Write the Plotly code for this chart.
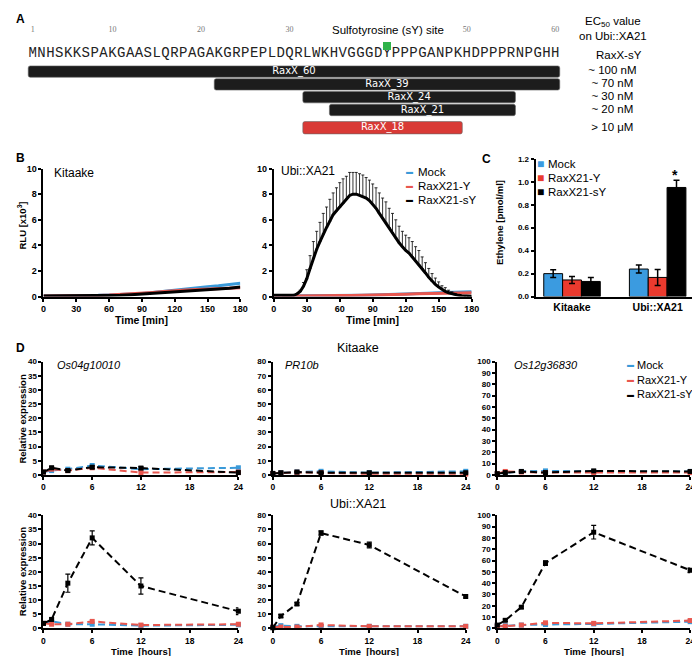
import plotly.graph_objects as go

W, H = 700, 656
FONT = "Liberation Sans"
BLUE = "#3a9ad9"
RED = "#e8574f"
RED_BAR = "#ea3a2e"
BLACK = "#000000"

# ---------------- Panel A data ----------------
sequence = "MNHSKKSPAKGAASLQRPAGAKGRPEPLDQRLWKHVGGGDYPPPGANPKHDPPPRNPGHH"
residue_labels = [1, 10, 20, 30, 50, 60]
peptides = ["RaxX_60", "RaxX_39", "RaxX_24", "RaxX_21", "RaxX_18"]
pep_start = [1, 22, 32, 35, 32]
pep_end = [60, 60, 55, 55, 49]
ec50_text = ["~ 100 nM", "~ 70 nM", "~ 30 nM", "~ 20 nM", "> 10 \u03bcM"]
sulfo_site = [41]

# ---------------- Panel B data ----------------
kit_time = [0, 10, 20, 30, 40, 50, 60, 70, 80, 90, 100, 110, 120, 130, 140, 150, 160, 170, 180]
kit_mock = [0.05, 0.05, 0.05, 0.06, 0.08, 0.1, 0.13, 0.16, 0.2, 0.25, 0.33, 0.42, 0.55, 0.63, 0.7, 0.78, 0.85, 0.95, 1.05]
kit_y = [0.05, 0.05, 0.05, 0.06, 0.07, 0.09, 0.12, 0.16, 0.21, 0.27, 0.33, 0.4, 0.48, 0.52, 0.55, 0.58, 0.62, 0.66, 0.7]
kit_sy = [0.05, 0.05, 0.05, 0.05, 0.05, 0.06, 0.08, 0.1, 0.14, 0.2, 0.25, 0.3, 0.35, 0.4, 0.45, 0.52, 0.58, 0.66, 0.75]
ubi_mock = [0.05, 0.05, 0.05, 0.05, 0.06, 0.07, 0.08, 0.09, 0.1, 0.12, 0.14, 0.17, 0.2, 0.24, 0.27, 0.3, 0.33, 0.36, 0.38]
ubi_y = [0.03, 0.03, 0.04, 0.05, 0.06, 0.07, 0.08, 0.09, 0.1, 0.12, 0.14, 0.16, 0.19, 0.22, 0.25, 0.27, 0.28, 0.29, 0.3]
ubi_sy_time = [0, 3, 6, 9, 12, 15, 18, 21, 24, 27, 30, 33, 36, 39, 42, 45, 48, 51, 54, 57,
               60, 63, 66, 69, 72, 75, 78, 81, 84, 87, 90, 93, 96, 99, 102, 105, 108, 111, 114, 117,
               120, 123, 126, 129, 132, 135, 138, 141, 144, 147, 150, 153, 156, 159, 162, 165, 168, 171, 174, 177, 180]
ubi_sy = [0.1, 0.1, 0.1, 0.08, 0.08, 0.08, 0.1, 0.2, 0.4, 0.8, 1.4, 2.2, 3.0, 3.7, 4.3, 4.9, 5.4, 5.9, 6.4, 6.7,
          7.0, 7.3, 7.6, 7.9, 8.0, 8.0, 7.9, 7.8, 7.7, 7.5, 7.2, 6.9, 6.5, 6.1, 5.8, 5.4, 5.0, 4.6, 4.2, 3.9,
          3.6, 3.4, 3.1, 2.8, 2.5, 2.2, 1.85, 1.5, 1.2, 0.95, 0.75, 0.55, 0.4, 0.3, 0.22, 0.15, 0.1, 0.06, 0.04, 0.03, 0.02]
ubi_sy_err = [0, 0, 0, 0, 0, 0, 0.02, 0.05, 0.1, 0.3, 0.7, 1.0, 1.3, 1.4, 1.5, 1.6, 1.6, 1.7, 1.7, 1.8,
              1.9, 1.9, 1.8, 1.8, 1.7, 1.7, 1.7, 1.7, 1.6, 1.6, 1.6, 1.6, 1.6, 1.6, 1.6, 1.5, 1.5, 1.4, 1.3, 1.2,
              1.2, 1.2, 1.2, 1.1, 1.1, 0.9, 0.8, 0.7, 0.6, 0.5, 0.4, 0.3, 0.3, 0.2, 0.15, 0.1, 0.05, 0.03, 0.02, 0, 0]

# ---------------- Panel C data ----------------
c_lines = ["Kitaake", "Ubi::XA21"]
c_mock = [0.20, 0.24]
c_mock_err = [0.033, 0.035]
c_y = [0.145, 0.167]
c_y_err = [0.03, 0.07]
c_sy = [0.132, 0.95]
c_sy_err = [0.035, 0.063]

# ---------------- Panel D data ----------------
d_time = [0, 1, 3, 6, 12, 24]
genes = ["Os04g10010", "PR10b", "Os12g36830"]
# Kitaake
kit_os04_mock = [1, 1.5, 2, 3.3, 2, 2.5]
kit_os04_y = [1, 2, 1.5, 2.5, 0.8, 1.0]
kit_os04_sy = [1, 2.5, 1.5, 2.7, 2.4, 0.8]
kit_pr10_mock = [1, 1.5, 2, 2.5, 1.5, 2.5]
kit_pr10_y = [1, 1.2, 1.8, 1.5, 0.5, 0.5]
kit_pr10_sy = [1, 1.5, 2, 1.5, 1.5, 1.5]
kit_os12_mock = [1, 2, 3, 3.5, 3, 3]
kit_os12_y = [1, 3, 2.5, 2, 2, 2]
kit_os12_sy = [1, 2, 3, 2, 3.5, 3]
kit_sy_err = [0.3, 0.5, 0.5, 0.5, 0.5, 0.5]
# Ubi::XA21
ubi_os04_mock = [1.8, 2.5, 1.5, 1.5, 1.0, 1.3]
ubi_os04_y = [1.8, 1.5, 1.5, 2.5, 1.2, 1.5]
ubi_os04_sy = [1.8, 3.2, 16, 32, 15, 6.1]
ubi_os04_sy_err = [0.5, 0.5, 3.2, 2.5, 2.9, 1.2]
ubi_pr10_mock = [1, 2, 1.5, 1.5, 1.5, 1.5]
ubi_pr10_y = [1, 1, 1, 2.5, 1.5, 1.5]
ubi_pr10_sy = [0.5, 8.8, 17.3, 67.4, 59, 22.6]
ubi_pr10_sy_err = [0.5, 1, 1, 1.5, 2, 1]
ubi_os12_mock = [2, 2.5, 3, 3.5, 4, 6]
ubi_os12_y = [2, 2, 3, 5, 4.5, 7]
ubi_os12_sy = [3, 7.2, 18.8, 57.8, 85, 51.4]
ubi_os12_sy_err = [1, 1, 1, 2, 6, 2]

# ---------------- layout helpers ----------------
def dx(l, r):
    return [l / W, r / W]

def dy(t, b):
    return [1 - b / H, 1 - t / H]

RES_PX0, RES_STEP = 22.0, 9.0
A_ROW_Y = [59.5, 72.5, 85.5, 98.5, 116.5]
A_ROW_H = [11.5, 11.5, 11.5, 11.5, 12.5]

fig = go.Figure()

# ---------------- Panel A ----------------
fig.add_trace(go.Bar(
    orientation="h", y=A_ROW_Y,
    x=[e - s + 1 for s, e in zip(pep_start, pep_end)],
    base=[s - 0.5 for s in pep_start],
    width=A_ROW_H,
    marker=dict(color=["#1c1c1c"] * 4 + ["#d93a36"], line=dict(color="#666666", width=0.6), cornerradius=2),
    xaxis="x", yaxis="y", hoverinfo="skip"))
fig.add_trace(go.Scatter(
    x=[(s + e) / 2 for s, e in zip(pep_start, pep_end)], y=A_ROW_Y, mode="text",
    text=peptides, textfont=dict(family="DejaVu Sans", size=10, color="white"),
    xaxis="x", yaxis="y", hoverinfo="skip"))
fig.add_trace(go.Scatter(
    x=list(range(1, len(sequence) + 1)), y=[41] * len(sequence), mode="text",
    text=list(sequence), textfont=dict(family="Liberation Mono", size=14, color="#222222"),
    xaxis="x", yaxis="y", hoverinfo="skip"))
fig.add_trace(go.Scatter(
    x=residue_labels, y=[17] * len(residue_labels), mode="text",
    text=[str(v) for v in residue_labels],
    textfont=dict(family="Liberation Serif", size=8, color="#777777"),
    xaxis="x", yaxis="y", hoverinfo="skip"))
fig.add_trace(go.Scatter(
    x=sulfo_site, y=[33.5], mode="markers",
    marker=dict(symbol="square", size=8, color="#2fb34c"),
    xaxis="x", yaxis="y", hoverinfo="skip"))
fig.add_trace(go.Scatter(
    x=[1 + (611 - RES_PX0) / RES_STEP] * len(ec50_text), y=A_ROW_Y, mode="text",
    text=ec50_text, textfont=dict(family=FONT, size=11.5, color="black"),
    xaxis="x", yaxis="y", hoverinfo="skip"))

# ---------------- Panel B ----------------
for ax, (m, yv) in zip(["2", "3"], [(kit_mock, kit_y), (ubi_mock, ubi_y)]):
    fig.add_trace(go.Scatter(x=kit_time, y=m, mode="lines", line=dict(color=BLUE, width=3),
                             xaxis="x" + ax, yaxis="y" + ax, cliponaxis=False))
    fig.add_trace(go.Scatter(x=kit_time, y=yv, mode="lines", line=dict(color=RED, width=3),
                             xaxis="x" + ax, yaxis="y" + ax, cliponaxis=False))
fig.add_trace(go.Scatter(x=kit_time, y=kit_sy, mode="lines", line=dict(color=BLACK, width=3),
                         xaxis="x2", yaxis="y2", cliponaxis=False))
fig.add_trace(go.Scatter(x=ubi_sy_time, y=ubi_sy, mode="lines", line=dict(color=BLACK, width=3),
                         error_y=dict(type="data", symmetric=False, array=ubi_sy_err,
                                      arrayminus=[0] * len(ubi_sy_err), color="black", thickness=0.8, width=1.5),
                         xaxis="x3", yaxis="y3", cliponaxis=False))

# ---------------- Panel C ----------------
for vals, errs, col in [(c_mock, c_mock_err, "#3b9be0"), (c_y, c_y_err, RED_BAR), (c_sy, c_sy_err, "#000000")]:
    fig.add_trace(go.Bar(x=c_lines, y=vals, marker=dict(color=col, line=dict(color="black", width=1)),
                         error_y=dict(type="data", array=errs, color="black", thickness=1.5, width=3),
                         xaxis="x4", yaxis="y4"))

# ---------------- Panel D ----------------
d_sets = [
    ("5", kit_os04_mock, kit_os04_y, kit_os04_sy, kit_sy_err),
    ("6", kit_pr10_mock, kit_pr10_y, kit_pr10_sy, kit_sy_err),
    ("7", kit_os12_mock, kit_os12_y, kit_os12_sy, kit_sy_err),
    ("8", ubi_os04_mock, ubi_os04_y, ubi_os04_sy, ubi_os04_sy_err),
    ("9", ubi_pr10_mock, ubi_pr10_y, ubi_pr10_sy, ubi_pr10_sy_err),
    ("10", ubi_os12_mock, ubi_os12_y, ubi_os12_sy, ubi_os12_sy_err),
]
for ax, m, yv, sy, se in d_sets:
    for vals, col in [(m, BLUE), (yv, RED)]:
        fig.add_trace(go.Scatter(x=d_time, y=vals, mode="lines+markers",
                                 line=dict(color=col, width=2, dash="7px,4px"),
                                 marker=dict(symbol="square", size=5, color=col),
                                 xaxis="x" + ax, yaxis="y" + ax, cliponaxis=False))
    fig.add_trace(go.Scatter(x=d_time, y=sy, mode="lines+markers",
                             line=dict(color=BLACK, width=2, dash="7px,4px"),
                             marker=dict(symbol="square", size=5, color=BLACK),
                             error_y=dict(type="data", array=se, color="black", thickness=1.2, width=2.5),
                             xaxis="x" + ax, yaxis="y" + ax, cliponaxis=False))

# ---------------- axes ----------------
def axis(domain, anchor, rng, **kw):
    d = dict(domain=domain, anchor=anchor, range=rng, showline=True, linecolor="black", linewidth=2,
             ticks="outside", ticklen=3, tickwidth=1.5, tickcolor="black", showgrid=False, zeroline=False,
             tickfont=dict(family=FONT, size=9, color="black", weight="bold"))
    d.update(kw)
    return d

layout = dict(
    width=W, height=H, margin=dict(l=0, r=0, t=0, b=0), autosize=False,
    paper_bgcolor="white", plot_bgcolor="white", showlegend=False,
    barmode="group", bargap=0.34, bargroupgap=0,
    font=dict(family=FONT, color="black"),
    xaxis=dict(domain=[0, 1], anchor="y", range=[1 + (0 - RES_PX0) / RES_STEP, 1 + (W - RES_PX0) / RES_STEP],
               visible=False),
    yaxis=dict(domain=dy(0, 130), anchor="x", range=[130, 0], visible=False),
)
B_Y = dy(158, 288)
layout["xaxis2"] = axis(dx(33, 233), "y2", [0, 180], tickvals=[0, 30, 60, 90, 120, 150, 180])
layout["yaxis2"] = axis(B_Y, "x2", [0, 10], tickvals=[0, 2, 4, 6, 8, 10])
layout["xaxis3"] = axis(dx(267, 468), "y3", [0, 180], tickvals=[0, 30, 60, 90, 120, 150, 180])
layout["yaxis3"] = axis(B_Y, "x3", [0, 10], tickvals=[0, 2, 4, 6, 8, 10])
layout["xaxis4"] = axis(dx(533, 697), "y4", [-0.425, 1.46], ticks="", type="category",
                        tickfont=dict(family=FONT, size=10.5, color="black", weight="bold"))
layout["yaxis4"] = axis(dy(148, 288), "x4", [0, 1.2], tickvals=[0, 0.2, 0.4, 0.6, 0.8, 1.0, 1.2],
                        tickformat=".1f", tickfont=dict(family=FONT, size=8, color="black", weight="bold"))
D_X = [dx(33, 231), dx(266, 462), dx(494, 690)]
D_RANGES = [[0, 40], [0, 80], [0, 100]]
D_DT = [5, 10, 10]
D_ROWS = [dy(354, 469), dy(510, 625)]
for r, yd in enumerate(D_ROWS):
    for c in range(3):
        n = str(5 + r * 3 + c)
        layout["xaxis" + n] = axis(D_X[c], "y" + n, [0, 24], tickvals=[0, 6, 12, 18, 24],
                                   tickfont=dict(family=FONT, size=8.5, color="black", weight="bold"))
        layout["yaxis" + n] = axis(yd, "x" + n, D_RANGES[c], dtick=D_DT[c],
                                   tickfont=dict(family=FONT, size=8, color="black", weight="bold"))

# ---------------- annotations ----------------
anns = []

def ann(text, x, y, size=12, bold=False, italic=False, xanchor="center", yanchor="middle", angle=0, color="black"):
    anns.append(dict(text=text, x=x / W, y=1 - y / H, xref="paper", yref="paper", showarrow=False,
                     xanchor=xanchor, yanchor=yanchor, textangle=angle, borderpad=0,
                     font=dict(family=FONT, size=size, color=color, weight="bold" if bold else "normal",
                               style="italic" if italic else "normal")))

# A
ann("A", 4, 6, 12, bold=True, xanchor="left")
ann("Sulfotyrosine (sY) site", 383, 17, 11.5)
ann("EC<sub>50</sub> value", 612, 9, 11.5)
ann("on Ubi::XA21", 612, 23, 11.5)
ann("RaxX-sY", 618, 43, 11.5)
# B
ann("B", 4, 147, 12, bold=True, xanchor="left")
ann("Kitaake", 43, 162, 12, xanchor="left")
ann("Ubi::XA21", 273, 160, 12, xanchor="left")
ann("RLU [x10<sup>3</sup>]", 11, 216, 9.5, bold=True, angle=-90)
ann("Time [min]", 133, 312, 10.5, bold=True)
ann("Time [min]", 367, 312, 10.5, bold=True)
for lbl, col, yy in [("Mock", BLUE, 161), ("RaxX21-Y", RED, 175.5), ("RaxX21-sY", BLACK, 189.5)]:
    ann("<span style='color:%s'>\u25ac</span>" % col, 405, yy, 7)
    ann(lbl, 412, yy, 11.5, xanchor="left")
# C
ann("C", 483, 148, 12, bold=True)
for lbl, col, yy in [("Mock", "#3b9be0", 153), ("RaxX21-Y", RED_BAR, 167.5), ("RaxX21-sY", "#000000", 182)]:
    ann("<span style='color:%s'>\u25a0</span>" % col, 538, yy, 12)
    ann(lbl, 545, yy, 11.5, xanchor="left")
ann("Ethylene [pmol/ml]", 497, 213, 9.5, bold=True, angle=-90)
ann("*", 675, 165, 14, bold=True)
# D
ann("D", 4, 340, 12, bold=True, xanchor="left")
ann("Kitaake", 353, 340, 12.5)
ann("Ubi::XA21", 353, 499, 12.5)
ann(genes[0], 46, 357, 11, italic=True, xanchor="left")
ann(genes[1], 277, 357, 11, italic=True, xanchor="left")
ann(genes[2], 510, 357, 11, italic=True, xanchor="left")
ann("Relative expression", 12, 412, 9.5, bold=True, angle=-90)
ann("Relative expression", 12, 567, 9.5, bold=True, angle=-90)
for xx in [132, 364, 592]:
    ann("Time  [hours]", xx, 648.5, 9.5, bold=True)
for lbl, col, yy in [("Mock", BLUE, 357), ("RaxX21-Y", RED, 372.5), ("RaxX21-sY", BLACK, 387)]:
    ann("<span style='color:%s'>\u25ac</span>" % col, 629, yy, 7)
    ann(lbl, 635, yy, 11, xanchor="left")

layout["annotations"] = anns
fig.update_layout(**layout)
fig.write_html("out.html")
